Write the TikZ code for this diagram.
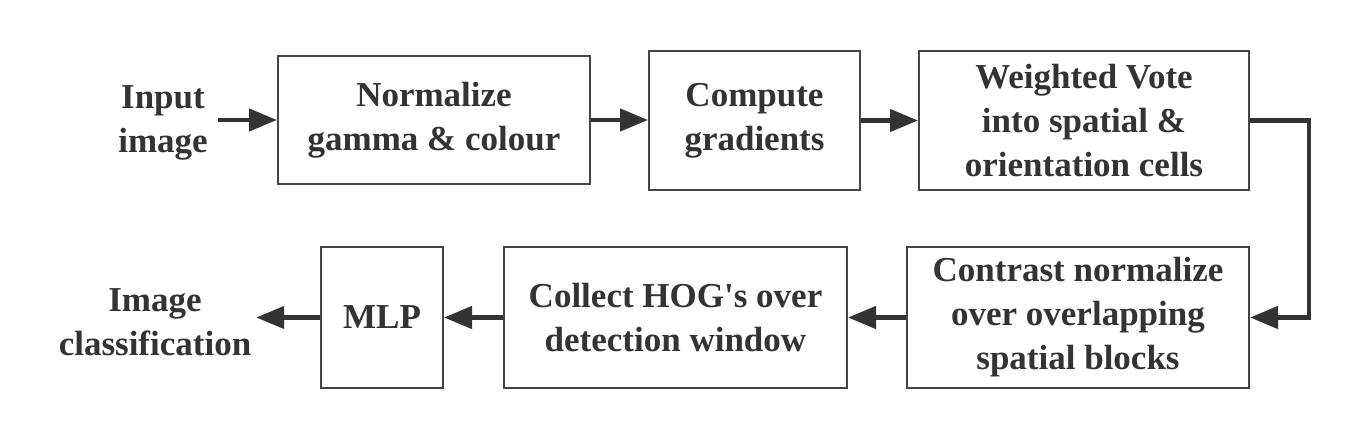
\documentclass[tikz,border=0pt]{standalone}
\usepackage{fontspec}
\setmainfont{Liberation Serif}[Ligatures=TeXOff]
\usetikzlibrary{arrows.meta}
\definecolor{ink}{HTML}{333333}
\definecolor{frame}{HTML}{444444}
\begin{document}
\begin{tikzpicture}[x=1pt,y=-1pt,
  every node/.style={font=\fontsize{35}{44}\selectfont\bfseries, text=ink, align=center},
  blk/.style={draw=frame, line width=2pt, rectangle, inner sep=0pt},
  lbl/.style={inner sep=0pt},
  flow/.style={draw=ink, line width=4.5pt, -{Triangle[length=28pt,width=22pt]}}
]
\useasboundingbox (0,0) rectangle (1360,438);
\node[lbl, outer sep=10pt] (in) at (163,123) {Input\\image};
\node[blk, minimum width=312pt, minimum height=128pt] (b1) at (434,120) {Normalize\\gamma \& colour};
\node[blk, minimum width=211pt, minimum height=139pt] (b2) at (754.5,120.5) {Compute\\gradients};
\node[blk, minimum width=330pt, minimum height=139pt] (b3) at (1084,120.5) {Weighted Vote\\into spatial \&\\orientation cells};
\node[blk, minimum width=342pt, minimum height=141pt] (b4) at (1078,317.5) {Contrast normalize\\over overlapping\\spatial blocks};
\node[blk, minimum width=343pt, minimum height=141pt] (b5) at (675.5,317.5) {Collect HOG's over\\detection window};
\node[blk, minimum width=122pt, minimum height=141pt] (b6) at (382,317.5) {MLP};
\node[lbl, outer sep=5pt] (out) at (155,322) {Image\\classification};
\draw[flow] (in.east |- b1.west) -- (b1.west);
\draw[flow] (b1.east) -- (b1.east -| b2.west);
\draw[flow] (b2.east) -- (b3.west);
\draw[flow] (b3.east) -- ++(59,0) |- (b4.east);
\draw[flow] (b4.west) -- (b5.east);
\draw[flow] (b5.west) -- (b6.east);
\draw[flow] (b6.west) -- (b6.west -| out.east);
\end{tikzpicture}
\end{document}
